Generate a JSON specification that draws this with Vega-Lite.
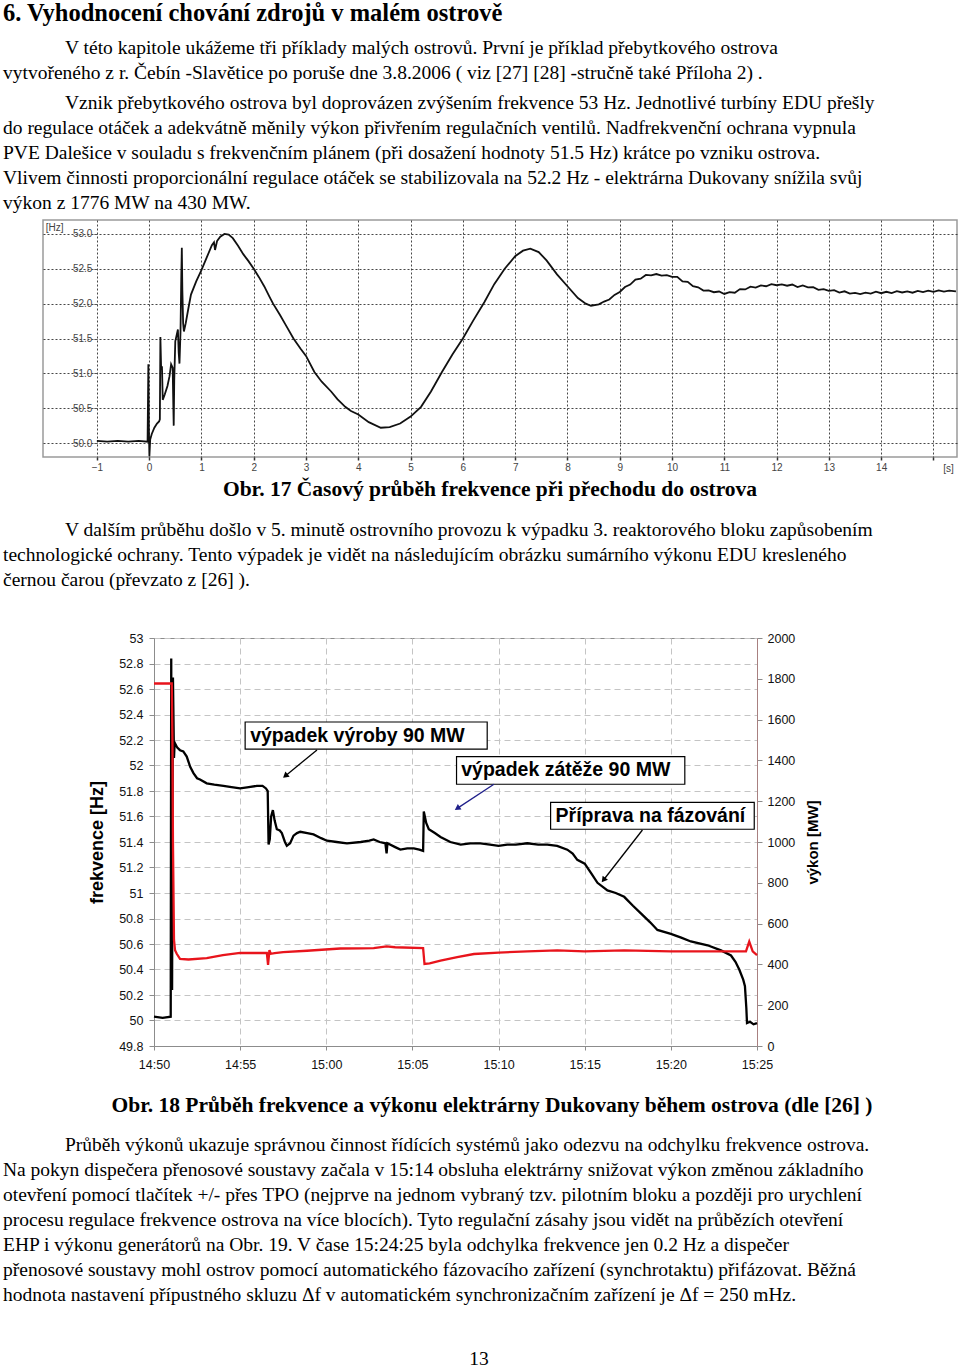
{
  "$schema": "https://vega.github.io/schema/vega-lite/v6.json",
  "background": "white",
  "padding": 0,
  "spacing": 0,
  "config": {"view": {"stroke": null}, "axis": {"labelFont": "Liberation Sans", "titleFont": "Liberation Sans", "labelOverlap": false}},
  "datasets": {
    "texty": [
      {"blok": "nadpis", "radek": 1, "odsazeni": "ne", "text": "6. Vyhodnocení chování zdrojů v malém ostrově"},
      {"blok": "odst1", "radek": 1, "odsazeni": "ano", "text": "V této kapitole ukážeme  tři příklady malých ostrovů.  První je příklad přebytkového ostrova"},
      {"blok": "odst1", "radek": 2, "odsazeni": "ne", "text": "vytvořeného z r. Čebín -Slavětice po poruše dne 3.8.2006 ( viz [27] [28] -stručně také Příloha 2) ."},
      {"blok": "odst2", "radek": 1, "odsazeni": "ano", "text": "Vznik přebytkového ostrova byl doprovázen zvýšením frekvence 53 Hz. Jednotlivé turbíny EDU přešly"},
      {"blok": "odst2", "radek": 2, "odsazeni": "ne", "text": "do regulace otáček a adekvátně měnily výkon přivřením regulačních ventilů. Nadfrekvenční ochrana  vypnula"},
      {"blok": "odst2", "radek": 3, "odsazeni": "ne", "text": "PVE Dalešice v souladu s frekvenčním plánem (při dosažení hodnoty 51.5 Hz) krátce po vzniku ostrova."},
      {"blok": "odst2", "radek": 4, "odsazeni": "ne", "text": "Vlivem činnosti proporcionální regulace otáček se stabilizovala na 52.2 Hz - elektrárna Dukovany snížila svůj"},
      {"blok": "odst2", "radek": 5, "odsazeni": "ne", "text": "výkon z 1776 MW na 430 MW."},
      {"blok": "popis17", "radek": 1, "odsazeni": "ne", "text": "Obr.  17 Časový průběh frekvence při přechodu do ostrova"},
      {"blok": "odst3", "radek": 1, "odsazeni": "ano", "text": "V dalším průběhu došlo v 5. minutě ostrovního provozu k výpadku 3. reaktorového  bloku zapůsobením"},
      {"blok": "odst3", "radek": 2, "odsazeni": "ne", "text": "technologické ochrany. Tento výpadek je vidět na následujícím obrázku sumárního výkonu EDU kresleného"},
      {"blok": "odst3", "radek": 3, "odsazeni": "ne", "text": "černou čarou (převzato z [26] )."},
      {"blok": "popis18", "radek": 1, "odsazeni": "ne", "text": "Obr.  18 Průběh frekvence a výkonu elektrárny Dukovany během ostrova (dle [26] )"},
      {"blok": "odst4", "radek": 1, "odsazeni": "ano", "text": "Průběh výkonů ukazuje správnou činnost řídících systémů jako odezvu na odchylku frekvence ostrova."},
      {"blok": "odst4", "radek": 2, "odsazeni": "ne", "text": "Na pokyn dispečera přenosové soustavy začala v 15:14 obsluha elektrárny snižovat výkon změnou základního"},
      {"blok": "odst4", "radek": 3, "odsazeni": "ne", "text": "otevření pomocí tlačítek +/-  přes TPO (nejprve na jednom vybraný tzv. pilotním bloku a později pro urychlení"},
      {"blok": "odst4", "radek": 4, "odsazeni": "ne", "text": "procesu regulace frekvence ostrova na více blocích). Tyto regulační zásahy jsou  vidět na průbězích otevření"},
      {"blok": "odst4", "radek": 5, "odsazeni": "ne", "text": "EHP i výkonu generátorů na Obr.  19. V čase 15:24:25 byla odchylka frekvence jen 0.2 Hz a dispečer"},
      {"blok": "odst4", "radek": 6, "odsazeni": "ne", "text": "přenosové soustavy mohl ostrov pomocí automatického fázovacího zařízení (synchrotaktu) přifázovat. Běžná"},
      {"blok": "odst4", "radek": 7, "odsazeni": "ne", "text": "hodnota nastavení přípustného skluzu Δf v automatickém synchronizačním zařízení  je Δf = 250 mHz."},
      {"blok": "strana", "radek": 1, "odsazeni": "ne", "text": "13"}
    ],
    "prechod": [
      {"cas": -1.0, "frekvence": 50.03}, {"cas": -0.8, "frekvence": 50.02}, {"cas": -0.6, "frekvence": 50.03}, {"cas": -0.4, "frekvence": 50.02}, {"cas": -0.2, "frekvence": 50.03}, {"cas": -0.03, "frekvence": 50.02},
      {"cas": -0.015, "frekvence": 51.13}, {"cas": -0.005, "frekvence": 50.2}, {"cas": 0.005, "frekvence": 49.81}, {"cas": 0.02, "frekvence": 50.05}, {"cas": 0.05, "frekvence": 50.13}, {"cas": 0.1, "frekvence": 50.22}, {"cas": 0.15, "frekvence": 50.28}, {"cas": 0.19, "frekvence": 50.31}, {"cas": 0.205, "frekvence": 50.34},
      {"cas": 0.215, "frekvence": 51.52}, {"cas": 0.23, "frekvence": 51.05}, {"cas": 0.245, "frekvence": 51.1}, {"cas": 0.26, "frekvence": 50.62}, {"cas": 0.3, "frekvence": 50.7}, {"cas": 0.35, "frekvence": 50.82}, {"cas": 0.39, "frekvence": 50.96}, {"cas": 0.42, "frekvence": 51.13}, {"cas": 0.45, "frekvence": 51.08}, {"cas": 0.462, "frekvence": 50.55}, {"cas": 0.47, "frekvence": 50.25}, {"cas": 0.48, "frekvence": 50.9}, {"cas": 0.5, "frekvence": 51.46}, {"cas": 0.55, "frekvence": 51.63}, {"cas": 0.565, "frekvence": 51.3}, {"cas": 0.58, "frekvence": 51.14}, {"cas": 0.6, "frekvence": 51.6}, {"cas": 0.615, "frekvence": 52.4}, {"cas": 0.625, "frekvence": 52.8}, {"cas": 0.635, "frekvence": 52.2}, {"cas": 0.65, "frekvence": 51.72}, {"cas": 0.665, "frekvence": 51.6},
      {"cas": 0.7, "frekvence": 51.72}, {"cas": 0.75, "frekvence": 51.93}, {"cas": 0.8, "frekvence": 52.13}, {"cas": 0.9, "frekvence": 52.32}, {"cas": 1.0, "frekvence": 52.48}, {"cas": 1.1, "frekvence": 52.66}, {"cas": 1.2, "frekvence": 52.84}, {"cas": 1.24, "frekvence": 52.88}, {"cas": 1.26, "frekvence": 52.77}, {"cas": 1.3, "frekvence": 52.9}, {"cas": 1.36, "frekvence": 52.96}, {"cas": 1.44, "frekvence": 53.0}, {"cas": 1.52, "frekvence": 52.99}, {"cas": 1.6, "frekvence": 52.94}, {"cas": 1.7, "frekvence": 52.83}, {"cas": 1.8, "frekvence": 52.71}, {"cas": 1.9, "frekvence": 52.61}, {"cas": 2.0, "frekvence": 52.5},
      {"cas": 2.1, "frekvence": 52.38}, {"cas": 2.2, "frekvence": 52.25}, {"cas": 2.3, "frekvence": 52.1}, {"cas": 2.37, "frekvence": 52.0}, {"cas": 2.5, "frekvence": 51.84}, {"cas": 2.6, "frekvence": 51.71}, {"cas": 2.76, "frekvence": 51.5}, {"cas": 2.9, "frekvence": 51.35}, {"cas": 3.0, "frekvence": 51.25}, {"cas": 3.16, "frekvence": 51.02}, {"cas": 3.3, "frekvence": 50.88}, {"cas": 3.48, "frekvence": 50.74}, {"cas": 3.6, "frekvence": 50.63}, {"cas": 3.75, "frekvence": 50.52}, {"cas": 3.86, "frekvence": 50.46}, {"cas": 4.0, "frekvence": 50.41}, {"cas": 4.2, "frekvence": 50.3}, {"cas": 4.43, "frekvence": 50.22}, {"cas": 4.6, "frekvence": 50.23}, {"cas": 4.8, "frekvence": 50.28}, {"cas": 5.0, "frekvence": 50.38}, {"cas": 5.2, "frekvence": 50.52}, {"cas": 5.39, "frekvence": 50.74}, {"cas": 5.6, "frekvence": 51.02}, {"cas": 5.8, "frekvence": 51.27}, {"cas": 6.0, "frekvence": 51.5}, {"cas": 6.2, "frekvence": 51.76}, {"cas": 6.41, "frekvence": 52.02}, {"cas": 6.6, "frekvence": 52.28}, {"cas": 6.8, "frekvence": 52.5}, {"cas": 7.0, "frekvence": 52.68}, {"cas": 7.15, "frekvence": 52.76}, {"cas": 7.29, "frekvence": 52.79}, {"cas": 7.45, "frekvence": 52.74}, {"cas": 7.6, "frekvence": 52.62}, {"cas": 7.8, "frekvence": 52.42}, {"cas": 8.0, "frekvence": 52.25}, {"cas": 8.2, "frekvence": 52.08}, {"cas": 8.35, "frekvence": 52.0}, {"cas": 8.45, "frekvence": 51.97}, {"cas": 8.6, "frekvence": 51.99},
      {"cas": 8.7, "frekvence": 52.03}, {"cas": 8.8, "frekvence": 52.06}, {"cas": 8.9, "frekvence": 52.125}, {"cas": 9.0, "frekvence": 52.167}, {"cas": 9.1, "frekvence": 52.239}, {"cas": 9.2, "frekvence": 52.274}, {"cas": 9.3, "frekvence": 52.344}, {"cas": 9.4, "frekvence": 52.359}, {"cas": 9.5, "frekvence": 52.412}, {"cas": 9.6, "frekvence": 52.405}, {"cas": 9.7, "frekvence": 52.425}, {"cas": 9.8, "frekvence": 52.402}, {"cas": 9.9, "frekvence": 52.409}, {"cas": 10.0, "frekvence": 52.384}, {"cas": 10.1, "frekvence": 52.384}, {"cas": 10.2, "frekvence": 52.319}, {"cas": 10.3, "frekvence": 52.312}, {"cas": 10.4, "frekvence": 52.25}, {"cas": 10.5, "frekvence": 52.235}, {"cas": 10.6, "frekvence": 52.187}, {"cas": 10.7, "frekvence": 52.189}, {"cas": 10.8, "frekvence": 52.164}, {"cas": 10.9, "frekvence": 52.174}, {"cas": 11.0, "frekvence": 52.139}, {"cas": 11.1, "frekvence": 52.165}, {"cas": 11.2, "frekvence": 52.157}, {"cas": 11.3, "frekvence": 52.209}, {"cas": 11.4, "frekvence": 52.204}, {"cas": 11.5, "frekvence": 52.244}, {"cas": 11.6, "frekvence": 52.229}, {"cas": 11.7, "frekvence": 52.262}, {"cas": 11.8, "frekvence": 52.25}, {"cas": 11.9, "frekvence": 52.279}, {"cas": 12.0, "frekvence": 52.264}, {"cas": 12.1, "frekvence": 52.275}, {"cas": 12.2, "frekvence": 52.257}, {"cas": 12.3, "frekvence": 52.274}, {"cas": 12.4, "frekvence": 52.239}, {"cas": 12.5, "frekvence": 52.262}, {"cas": 12.6, "frekvence": 52.234}, {"cas": 12.7, "frekvence": 52.235}, {"cas": 12.8, "frekvence": 52.197}, {"cas": 12.9, "frekvence": 52.209}, {"cas": 13.0, "frekvence": 52.184}, {"cas": 13.1, "frekvence": 52.194}, {"cas": 13.2, "frekvence": 52.159}, {"cas": 13.3, "frekvence": 52.177}, {"cas": 13.4, "frekvence": 52.145}, {"cas": 13.5, "frekvence": 52.155}, {"cas": 13.6, "frekvence": 52.137}, {"cas": 13.7, "frekvence": 52.159}, {"cas": 13.8, "frekvence": 52.145}, {"cas": 13.9, "frekvence": 52.172}, {"cas": 14.0, "frekvence": 52.15}, {"cas": 14.1, "frekvence": 52.17}, {"cas": 14.2, "frekvence": 52.152}, {"cas": 14.3, "frekvence": 52.179}, {"cas": 14.4, "frekvence": 52.16}, {"cas": 14.5, "frekvence": 52.176}, {"cas": 14.6, "frekvence": 52.157}, {"cas": 14.7, "frekvence": 52.184}, {"cas": 14.8, "frekvence": 52.165}, {"cas": 14.9, "frekvence": 52.187}, {"cas": 15.0, "frekvence": 52.168}, {"cas": 15.1, "frekvence": 52.19}, {"cas": 15.2, "frekvence": 52.172}, {"cas": 15.3, "frekvence": 52.186}, {"cas": 15.43, "frekvence": 52.177}
    ],
    "frekvence": [
      {"minuta": 0, "frekvence": 50.03}, {"minuta": 0.5, "frekvence": 50.02}, {"minuta": 0.97, "frekvence": 50.03}, {"minuta": 1.0, "frekvence": 52.84}, {"minuta": 1.05, "frekvence": 50.24}, {"minuta": 1.1, "frekvence": 52.69}, {"minuta": 1.16, "frekvence": 52.06}, {"minuta": 1.2, "frekvence": 52.18}, {"minuta": 1.35, "frekvence": 52.14}, {"minuta": 1.51, "frekvence": 52.12}, {"minuta": 1.7, "frekvence": 52.11}, {"minuta": 1.9, "frekvence": 52.07}, {"minuta": 2.1, "frekvence": 51.99}, {"minuta": 2.29, "frekvence": 51.94}, {"minuta": 2.5, "frekvence": 51.9}, {"minuta": 2.67, "frekvence": 51.89}, {"minuta": 3.06, "frekvence": 51.86}, {"minuta": 3.5, "frekvence": 51.85}, {"minuta": 4.03, "frekvence": 51.84}, {"minuta": 4.5, "frekvence": 51.83}, {"minuta": 5.0, "frekvence": 51.82}, {"minuta": 5.5, "frekvence": 51.83}, {"minuta": 5.97, "frekvence": 51.84}, {"minuta": 6.3, "frekvence": 51.84}, {"minuta": 6.5, "frekvence": 51.82}, {"minuta": 6.6, "frekvence": 51.8}, {"minuta": 6.65, "frekvence": 51.38}, {"minuta": 6.72, "frekvence": 51.42}, {"minuta": 6.8, "frekvence": 51.6}, {"minuta": 6.9, "frekvence": 51.65}, {"minuta": 7.0, "frekvence": 51.57}, {"minuta": 7.13, "frekvence": 51.5}, {"minuta": 7.3, "frekvence": 51.49}, {"minuta": 7.42, "frekvence": 51.47}, {"minuta": 7.6, "frekvence": 51.4}, {"minuta": 7.71, "frekvence": 51.37}, {"minuta": 7.9, "frekvence": 51.39}, {"minuta": 8.1, "frekvence": 51.45}, {"minuta": 8.3, "frekvence": 51.47}, {"minuta": 8.49, "frekvence": 51.48}, {"minuta": 8.9, "frekvence": 51.47}, {"minuta": 9.26, "frekvence": 51.46}, {"minuta": 9.7, "frekvence": 51.43}, {"minuta": 10.04, "frekvence": 51.41}, {"minuta": 10.6, "frekvence": 51.4}, {"minuta": 11.2, "frekvence": 51.39}, {"minuta": 12.0, "frekvence": 51.4}, {"minuta": 12.5, "frekvence": 51.41}, {"minuta": 12.75, "frekvence": 51.42}, {"minuta": 13.1, "frekvence": 51.4}, {"minuta": 13.43, "frekvence": 51.39}, {"minuta": 13.5, "frekvence": 51.31}, {"minuta": 13.55, "frekvence": 51.39}, {"minuta": 14.0, "frekvence": 51.36}, {"minuta": 14.3, "frekvence": 51.34}, {"minuta": 14.7, "frekvence": 51.35}, {"minuta": 15.08, "frekvence": 51.35}, {"minuta": 15.4, "frekvence": 51.34}, {"minuta": 15.62, "frekvence": 51.33}, {"minuta": 15.66, "frekvence": 51.64}, {"minuta": 15.8, "frekvence": 51.55}, {"minuta": 15.95, "frekvence": 51.5}, {"minuta": 16.3, "frekvence": 51.47}, {"minuta": 16.63, "frekvence": 51.44}, {"minuta": 17.2, "frekvence": 51.4}, {"minuta": 17.8, "frekvence": 51.38}, {"minuta": 18.37, "frekvence": 51.39}, {"minuta": 18.95, "frekvence": 51.39}, {"minuta": 19.5, "frekvence": 51.38}, {"minuta": 20.0, "frekvence": 51.37}, {"minuta": 20.5, "frekvence": 51.38}, {"minuta": 21.0, "frekvence": 51.38}, {"minuta": 21.67, "frekvence": 51.39}, {"minuta": 22.3, "frekvence": 51.38}, {"minuta": 22.83, "frekvence": 51.38}, {"minuta": 23.4, "frekvence": 51.37}, {"minuta": 23.99, "frekvence": 51.34}, {"minuta": 24.3, "frekvence": 51.31}, {"minuta": 24.57, "frekvence": 51.26}, {"minuta": 25.0, "frekvence": 51.23}, {"minuta": 25.4, "frekvence": 51.15}, {"minuta": 25.74, "frekvence": 51.08}, {"minuta": 26.32, "frekvence": 51.02}, {"minuta": 26.8, "frekvence": 51.0}, {"minuta": 27.29, "frekvence": 50.97}, {"minuta": 27.8, "frekvence": 50.9}, {"minuta": 28.26, "frekvence": 50.84}, {"minuta": 28.8, "frekvence": 50.77}, {"minuta": 29.22, "frekvence": 50.71}, {"minuta": 30.0, "frekvence": 50.68}, {"minuta": 30.6, "frekvence": 50.65}, {"minuta": 31.16, "frekvence": 50.62}, {"minuta": 32.13, "frekvence": 50.59}, {"minuta": 32.91, "frekvence": 50.55}, {"minuta": 33.49, "frekvence": 50.51}, {"minuta": 33.75, "frekvence": 50.46}, {"minuta": 33.97, "frekvence": 50.4}, {"minuta": 34.2, "frekvence": 50.32}, {"minuta": 34.3, "frekvence": 50.27}, {"minuta": 34.38, "frekvence": 50.1}, {"minuta": 34.42, "frekvence": 49.98}, {"minuta": 34.6, "frekvence": 49.99}, {"minuta": 34.8, "frekvence": 49.97}, {"minuta": 35.0, "frekvence": 49.98}
    ],
    "vykon": [
      {"minuta": 0, "vykon": 1777}, {"minuta": 1.03, "vykon": 1777}, {"minuta": 1.07, "vykon": 1500}, {"minuta": 1.1, "vykon": 1000}, {"minuta": 1.16, "vykon": 520}, {"minuta": 1.22, "vykon": 470}, {"minuta": 1.32, "vykon": 452}, {"minuta": 1.51, "vykon": 427}, {"minuta": 2.0, "vykon": 424}, {"minuta": 3.06, "vykon": 431}, {"minuta": 4.0, "vykon": 445}, {"minuta": 5.0, "vykon": 456}, {"minuta": 6.55, "vykon": 456}, {"minuta": 6.62, "vykon": 398}, {"minuta": 6.7, "vykon": 470}, {"minuta": 6.78, "vykon": 452}, {"minuta": 7.0, "vykon": 455}, {"minuta": 7.5, "vykon": 460}, {"minuta": 8.88, "vykon": 467}, {"minuta": 10.81, "vykon": 478}, {"minuta": 12.0, "vykon": 479}, {"minuta": 12.75, "vykon": 480}, {"minuta": 13.5, "vykon": 488}, {"minuta": 14.0, "vykon": 484}, {"minuta": 15.62, "vykon": 480}, {"minuta": 15.7, "vykon": 402}, {"minuta": 16.0, "vykon": 405}, {"minuta": 16.63, "vykon": 418}, {"minuta": 17.6, "vykon": 436}, {"minuta": 18.57, "vykon": 451}, {"minuta": 20.0, "vykon": 458}, {"minuta": 21.67, "vykon": 464}, {"minuta": 23.41, "vykon": 469}, {"minuta": 25.0, "vykon": 464}, {"minuta": 27.29, "vykon": 469}, {"minuta": 30.0, "vykon": 464}, {"minuta": 33.49, "vykon": 464}, {"minuta": 34.36, "vykon": 464}, {"minuta": 34.55, "vykon": 512}, {"minuta": 34.75, "vykon": 464}, {"minuta": 35.0, "vykon": 446}
    ],
    "popisky": [
      {"popis": "výpadek výroby 90 MW", "m0": 5.29, "m1": 19.34, "f0": 52.341, "f1": 52.129, "mt": 5.58, "ft": 52.235},
      {"popis": "výpadek zátěže  90 MW", "m0": 17.56, "m1": 30.81, "f0": 52.069, "f1": 51.853, "mt": 17.83, "ft": 51.961},
      {"popis": "Příprava na fázování", "m0": 23.02, "m1": 34.84, "f0": 51.711, "f1": 51.5, "mt": 23.31, "ft": 51.605}
    ],
    "sipky": [
      {"sipka": "a", "m0": 9.46, "f0": 52.122, "m1": 7.62, "f1": 51.918},
      {"sipka": "b", "m0": 19.73, "f0": 51.853, "m1": 17.6, "f1": 51.664},
      {"sipka": "c", "m0": 28.35, "f0": 51.494, "m1": 26.09, "f1": 51.102}
    ]
  },
  "vconcat": [
    {
      "width": 960, "height": 34.3,
      "data": {"name": "texty"},
      "transform": [{"filter": "datum.blok === 'nadpis'"}],
      "mark": {"type": "text", "font": "Liberation Serif", "fontSize": 24.5, "fontWeight": "bold", "align": "left", "baseline": "alphabetic", "color": "#000"},
      "encoding": {
        "y": {"field": "radek", "type": "ordinal", "axis": null, "scale": {"type": "point", "padding": 0.5, "align": 0.583}},
        "x": {"field": "odsazeni", "type": "nominal", "axis": null, "scale": {"type": "point", "domain": ["ne", "ano"], "range": [3, 65], "padding": 0}},
        "text": {"field": "text"}
      }
    },
    {
      "width": 960, "height": 54.4,
      "data": {"name": "texty"},
      "transform": [{"filter": "datum.blok === 'odst1'"}],
      "mark": {"type": "text", "font": "Liberation Serif", "fontSize": 19.5, "align": "left", "baseline": "alphabetic", "color": "#000"},
      "encoding": {
        "y": {"field": "radek", "type": "ordinal", "axis": null, "scale": {"type": "point", "padding": 0.588, "align": 0.612}},
        "x": {"field": "odsazeni", "type": "nominal", "axis": null, "scale": {"type": "point", "domain": ["ne", "ano"], "range": [3, 65], "padding": 0}},
        "text": {"field": "text"}
      }
    },
    {
      "width": 960, "height": 127.3,
      "data": {"name": "texty"},
      "transform": [{"filter": "datum.blok === 'odst2'"}],
      "mark": {"type": "text", "font": "Liberation Serif", "fontSize": 19.5, "align": "left", "baseline": "alphabetic", "color": "#000"},
      "encoding": {
        "y": {"field": "radek", "type": "ordinal", "axis": null, "scale": {"type": "point", "padding": 0.546, "align": 0.659}},
        "x": {"field": "odsazeni", "type": "nominal", "axis": null, "scale": {"type": "point", "domain": ["ne", "ano"], "range": [3, 65], "padding": 0}},
        "text": {"field": "text"}
      }
    },
    {
      "spacing": 0,
      "hconcat": [
        {"width": 42, "height": 237, "data": {"values": []}, "mark": "text"},
        {
          "width": 914, "height": 237,
          "view": {"stroke": "#9a9a9a", "strokeWidth": 1.5},
          "data": {"name": "prechod"},
          "mark": {"type": "line", "color": "#111", "strokeWidth": 1.8},
          "encoding": {
            "x": {"field": "cas", "type": "quantitative", "scale": {"domain": [-2.03, 15.45], "nice": false, "zero": false},
              "axis": {"values": [-1, 0, 1, 2, 3, 4, 5, 6, 7, 8, 9, 10, 11, 12, 13, 14, 15], "tickCount": 30, "labelExpr": "datum.value == 15 ? '' : format(datum.value, 'd')",
                "domain": false, "grid": true, "gridDash": [2, 2], "gridColor": "#333", "gridOpacity": 0.9,
                "ticks": true, "tickSize": 3, "tickColor": "#333", "tickWidth": 1.5,
                "labelFontSize": 10, "labelColor": "#444", "labelPadding": 2, "labelFlush": false, "labelOverlap": false,
                "title": "[s]", "titleFontSize": 10, "titleFontWeight": "normal", "titleColor": "#444", "titleX": 905, "titleY": 11, "titleAlign": "center", "titleBaseline": "middle", "titleAngle": 0}},
            "y": {"field": "frekvence", "type": "quantitative", "scale": {"domain": [49.8, 53.2], "nice": false, "zero": false},
              "axis": {"values": [50, 50.5, 51, 51.5, 52, 52.5, 53], "tickCount": 10, "format": ".1f", "offset": -53.86,
                "domain": false, "grid": true, "gridDash": [2, 2], "gridColor": "#333", "gridOpacity": 0.9,
                "ticks": true, "tickSize": 3, "tickColor": "#555",
                "labelFontSize": 10, "labelColor": "#444", "labelPadding": 2,
                "title": "[Hz]", "titleFontSize": 10, "titleFontWeight": "normal", "titleColor": "#444", "titleAngle": 0, "titleX": -51.7, "titleY": 7, "titleAlign": "left", "titleBaseline": "middle"}}
          }
        }
      ]
    },
    {
      "width": 960, "height": 43.3,
      "data": {"name": "texty"},
      "transform": [{"filter": "datum.blok === 'popis17'"}],
      "mark": {"type": "text", "font": "Liberation Serif", "fontSize": 21.5, "fontWeight": "bold", "align": "center", "baseline": "alphabetic", "color": "#000"},
      "encoding": {
        "y": {"field": "radek", "type": "ordinal", "axis": null, "scale": {"type": "point", "padding": 0.5, "align": 0.515}},
        "x": {"datum": 0.5104, "type": "quantitative", "axis": null, "scale": {"domain": [0, 1], "nice": false, "zero": false}},
        "text": {"field": "text"}
      }
    },
    {
      "width": 960, "height": 75,
      "data": {"name": "texty"},
      "transform": [{"filter": "datum.blok === 'odst3'"}],
      "mark": {"type": "text", "font": "Liberation Serif", "fontSize": 19.5, "align": "left", "baseline": "alphabetic", "color": "#000"},
      "encoding": {
        "y": {"field": "radek", "type": "ordinal", "axis": null, "scale": {"type": "point", "padding": 0.5, "align": 0.72}},
        "x": {"field": "odsazeni", "type": "nominal", "axis": null, "scale": {"type": "point", "domain": ["ne", "ano"], "range": [3, 65], "padding": 0}},
        "text": {"field": "text"}
      }
    },
    {"width": 960, "height": 37.2, "data": {"values": []}, "mark": "text"},
    {
      "spacing": 0,
      "hconcat": [
        {"width": 88, "height": 408, "data": {"values": []}, "mark": "text"},
        {
          "width": 603, "height": 408,
          "view": {"stroke": "#8c8c8c", "strokeWidth": 1},
          "layer": [
            {
              "layer": [
                {
                  "data": {"name": "frekvence"},
                  "mark": {"type": "line", "color": "#000", "strokeWidth": 2.3},
                  "encoding": {
                    "x": {"field": "minuta", "type": "quantitative", "scale": {"domain": [0, 35], "nice": false, "zero": false},
                      "axis": {"values": [0, 5, 10, 15, 20, 25, 30, 35], "tickCount": 20,
                        "labelExpr": "['14:50','14:55','15:00','15:05','15:10','15:15','15:20','15:25'][round(datum.value/5)]",
                        "title": null, "grid": true, "gridDash": [6, 4], "gridColor": "#c4c4c4",
                        "domainColor": "#8c8c8c", "tickColor": "#8c8c8c", "tickSize": 4,
                        "labelFontSize": 12.5, "labelColor": "#111", "labelPadding": 8, "labelFlush": false, "labelOverlap": false}},
                    "y": {"field": "frekvence", "type": "quantitative", "scale": {"domain": [49.8, 53], "nice": false, "zero": false},
                      "axis": {"values": [49.8, 50, 50.2, 50.4, 50.6, 50.8, 51, 51.2, 51.4, 51.6, 51.8, 52, 52.2, 52.4, 52.6, 52.8, 53], "tickCount": 30, "format": ".1~f",
                        "grid": true, "gridDash": [6, 4], "gridColor": "#c4c4c4",
                        "domainColor": "#8c8c8c", "tickColor": "#8c8c8c", "tickSize": 5,
                        "labelFontSize": 12.5, "labelColor": "#111", "labelPadding": 6, "labelOverlap": false, "labelBound": false,
                        "title": "frekvence [Hz]", "titleFontSize": 18, "titleFontWeight": "bold", "titleColor": "#000", "titlePadding": 12}}
                  }
                },
                {
                  "data": {"name": "popisky"},
                  "mark": {"type": "rect", "fill": "#fff", "stroke": "#000", "strokeWidth": 1.2},
                  "encoding": {
                    "x": {"field": "m0", "type": "quantitative", "scale": {"domain": [0, 35], "nice": false, "zero": false}},
                    "x2": {"field": "m1"},
                    "y": {"field": "f0", "type": "quantitative", "scale": {"domain": [49.8, 53], "nice": false, "zero": false}},
                    "y2": {"field": "f1"}
                  }
                },
                {
                  "data": {"name": "popisky"},
                  "mark": {"type": "text", "font": "Liberation Sans", "fontSize": 19.5, "fontWeight": "bold", "align": "left", "baseline": "middle", "color": "#000"},
                  "encoding": {
                    "x": {"field": "mt", "type": "quantitative", "scale": {"domain": [0, 35], "nice": false, "zero": false}},
                    "y": {"field": "ft", "type": "quantitative", "scale": {"domain": [49.8, 53], "nice": false, "zero": false}},
                    "text": {"field": "popis"}
                  }
                },
                {
                  "data": {"name": "sipky"},
                  "mark": {"type": "rule", "strokeWidth": 1.3},
                  "encoding": {
                    "x": {"field": "m0", "type": "quantitative", "scale": {"domain": [0, 35], "nice": false, "zero": false}},
                    "x2": {"field": "m1"},
                    "y": {"field": "f0", "type": "quantitative", "scale": {"domain": [49.8, 53], "nice": false, "zero": false}},
                    "y2": {"field": "f1"},
                    "color": {"field": "sipka", "type": "nominal", "scale": {"domain": ["a", "b", "c"], "range": ["#000000", "#1f1f8a", "#000000"]}, "legend": null}
                  }
                },
                {
                  "data": {"name": "sipky"},
                  "transform": [{"filter": "datum.sipka === 'a'"}],
                  "mark": {"type": "point", "shape": "triangle-up", "filled": true, "size": 45, "angle": 230.6, "color": "#000", "opacity": 1},
                  "encoding": {
                    "x": {"field": "m1", "type": "quantitative", "scale": {"domain": [0, 35], "nice": false, "zero": false}},
                    "y": {"field": "f1", "type": "quantitative", "scale": {"domain": [49.8, 53], "nice": false, "zero": false}}
                  }
                },
                {
                  "data": {"name": "sipky"},
                  "transform": [{"filter": "datum.sipka === 'b'"}],
                  "mark": {"type": "point", "shape": "triangle-up", "filled": true, "size": 45, "angle": 236.7, "color": "#1f1f8a", "opacity": 1},
                  "encoding": {
                    "x": {"field": "m1", "type": "quantitative", "scale": {"domain": [0, 35], "nice": false, "zero": false}},
                    "y": {"field": "f1", "type": "quantitative", "scale": {"domain": [49.8, 53], "nice": false, "zero": false}}
                  }
                },
                {
                  "data": {"name": "sipky"},
                  "transform": [{"filter": "datum.sipka === 'c'"}],
                  "mark": {"type": "point", "shape": "triangle-up", "filled": true, "size": 45, "angle": 218, "color": "#000", "opacity": 1},
                  "encoding": {
                    "x": {"field": "m1", "type": "quantitative", "scale": {"domain": [0, 35], "nice": false, "zero": false}},
                    "y": {"field": "f1", "type": "quantitative", "scale": {"domain": [49.8, 53], "nice": false, "zero": false}}
                  }
                }
              ]
            },
            {
              "data": {"name": "vykon"},
              "mark": {"type": "line", "color": "#e8141c", "strokeWidth": 2.3},
              "encoding": {
                "x": {"field": "minuta", "type": "quantitative", "scale": {"domain": [0, 35], "nice": false, "zero": false}},
                "y": {"field": "vykon", "type": "quantitative", "scale": {"domain": [0, 2000], "nice": false, "zero": false},
                  "axis": {"orient": "right", "values": [0, 200, 400, 600, 800, 1000, 1200, 1400, 1600, 1800, 2000], "tickCount": 20, "format": "d",
                    "grid": false, "domainColor": "#a88080", "tickColor": "#8c8c8c", "tickSize": 5,
                    "labelFontSize": 12.5, "labelColor": "#111", "labelPadding": 5, "labelOverlap": false,
                    "title": "výkon [MW]", "titleFontSize": 15, "titleFontWeight": "bold", "titleColor": "#000", "titleAngle": 270, "titlePadding": 26}}
              }
            }
          ],
          "resolve": {"scale": {"y": "independent"}}
        }
      ]
    },
    {
      "width": 960, "height": 62,
      "data": {"name": "texty"},
      "transform": [{"filter": "datum.blok === 'popis18'"}],
      "mark": {"type": "text", "font": "Liberation Serif", "fontSize": 21.5, "fontWeight": "bold", "align": "center", "baseline": "alphabetic", "color": "#000"},
      "encoding": {
        "y": {"field": "radek", "type": "ordinal", "axis": null, "scale": {"type": "point", "padding": 0.5, "align": 0.661}},
        "x": {"datum": 0.5125, "type": "quantitative", "axis": null, "scale": {"domain": [0, 1], "nice": false, "zero": false}},
        "text": {"field": "text"}
      }
    },
    {
      "width": 960, "height": 175,
      "data": {"name": "texty"},
      "transform": [{"filter": "datum.blok === 'odst4'"}],
      "mark": {"type": "text", "font": "Liberation Serif", "fontSize": 19.5, "align": "left", "baseline": "alphabetic", "color": "#000"},
      "encoding": {
        "y": {"field": "radek", "type": "ordinal", "axis": null, "scale": {"type": "point", "padding": 0.5, "align": 0.72}},
        "x": {"field": "odsazeni", "type": "nominal", "axis": null, "scale": {"type": "point", "domain": ["ne", "ano"], "range": [3, 65], "padding": 0}},
        "text": {"field": "text"}
      }
    },
    {
      "width": 960, "height": 60.5,
      "data": {"name": "texty"},
      "transform": [{"filter": "datum.blok === 'strana'"}],
      "mark": {"type": "text", "font": "Liberation Serif", "fontSize": 19.5, "align": "center", "baseline": "alphabetic", "color": "#000"},
      "encoding": {
        "y": {"field": "radek", "type": "ordinal", "axis": null, "scale": {"type": "point", "padding": 0.5, "align": 0.934}},
        "x": {"datum": 0.499, "type": "quantitative", "axis": null, "scale": {"domain": [0, 1], "nice": false, "zero": false}},
        "text": {"field": "text"}
      }
    }
  ]
}
